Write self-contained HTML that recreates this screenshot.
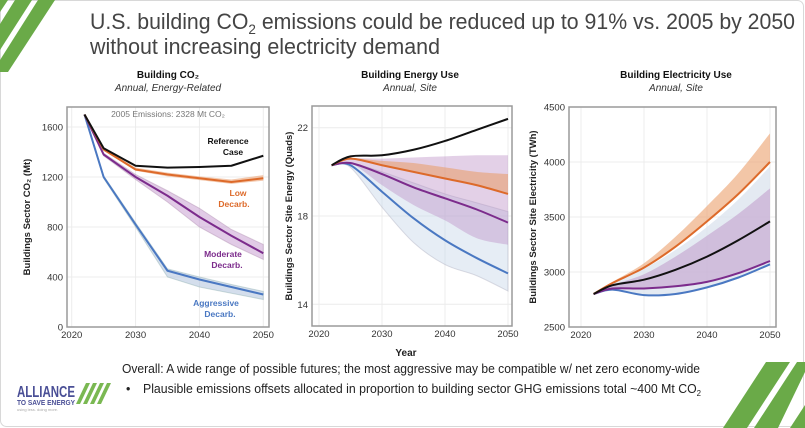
<!DOCTYPE html>
<html><head><meta charset="utf-8"><style>
body{margin:0;background:#fff;}
svg{display:block;font-family:"Liberation Sans",sans-serif;}
.t{font-family:"Liberation Sans",sans-serif;}
</style></head><body>
<svg id="s" width="805" height="428" viewBox="0 0 805 428">
<rect x="0.5" y="0.5" width="803" height="426" rx="6" fill="#fff" stroke="#d8d8d8"/>
<g fill="#6aaa48">
<polygon points="0,0 8,0 0,12"/>
<polygon points="15,0 32,0 0,50 0,24"/>
<polygon points="38,0 55,0 8,72 0,72 0,60"/>
</g>
<g fill="#6aaa48">
<polygon points="766,362 790,362 747,428 723,428"/>
<polygon points="797,362 805,362 805,372 778,428 754,428"/>
<polygon points="805,405 805,428 790,428"/>
</g>
<text class="t" x="90" y="29" font-size="22" fill="#444" textLength="705" lengthAdjust="spacingAndGlyphs">U.S. building CO<tspan font-size="14" dy="5">2</tspan><tspan dy="-5"> emissions could be reduced up to 91% vs. 2005 by 2050</tspan></text>
<text class="t" x="90" y="54" font-size="22" fill="#444" textLength="350" lengthAdjust="spacingAndGlyphs">without increasing electricity demand</text>
<g id="charts"></g>
<text x="406" y="356" font-size="10" font-weight="bold" fill="#222" text-anchor="middle">Year</text>
<text class="t" x="122" y="373" font-size="12.5" fill="#222" textLength="578" lengthAdjust="spacingAndGlyphs">Overall: A wide range of possible futures; the most aggressive may be compatible w/ net zero economy-wide</text>
<text class="t" x="126" y="393" font-size="12.5" fill="#222">•</text>
<text class="t" x="143" y="393" font-size="12.5" fill="#222" textLength="558" lengthAdjust="spacingAndGlyphs">Plausible emissions offsets allocated in proportion to building sector GHG emissions total ~400 Mt CO<tspan font-size="8" dy="3">2</tspan></text>
<g>
<text class="t" x="17" y="397" font-size="16" font-weight="bold" fill="#4a4f96" textLength="58" lengthAdjust="spacingAndGlyphs">ALLIANCE</text>
<text class="t" x="17" y="405" font-size="7" font-weight="bold" fill="#4a4f96" textLength="58" lengthAdjust="spacingAndGlyphs">TO SAVE ENERGY</text>
<text x="17" y="411" font-size="4" fill="#aaa">using less. doing more.</text>
<g fill="#7ab852"><polygon points="86,383 90,383 80,404 76,404"/><polygon points="93,383 97,383 87,404 83,404"/><polygon points="100,383 104,383 94,404 90,404"/><polygon points="107,383 111,383 101,404 97,404"/></g>
</g>
</svg>
<script>
// ---- Data ----
const years = [2022,2025,2030,2035,2040,2045,2050];
// Panel 1: Building CO2 (Mt)
const co2Reference = [1700,1430,1290,1275,1280,1290,1370];
const co2Low = [1700,1420,1260,1220,1190,1160,1190];
const co2LowHi = [1700,1430,1275,1235,1205,1180,1215];
const co2LowLo = [1700,1410,1250,1205,1175,1145,1170];
const co2Moderate = [1700,1380,1200,1050,880,730,590];
const co2ModerateHi = [1700,1390,1220,1090,950,780,660];
const co2ModerateLo = [1700,1370,1180,1000,800,660,540];
const co2Aggressive = [1700,1200,820,450,380,320,260];
const co2AggressiveHi = [1700,1210,835,465,400,340,285];
const co2AggressiveLo = [1700,1190,800,400,320,270,220];
const co2Ticks = [0,400,800,1200,1600];
// Panel 2: Site energy (Quads)
const enReference = [20.3,20.7,20.75,21.0,21.4,21.9,22.4];
const enLow = [20.3,20.6,20.3,20.0,19.7,19.4,19.0];
const enLowHi = [20.3,20.6,20.5,20.4,20.2,20.0,19.9];
const enModerate = [20.3,20.4,19.9,19.3,18.8,18.3,17.7];
const enModerateHi = [20.3,20.6,20.6,20.65,20.7,20.75,20.75];
const enModerateLo = [20.3,20.4,19.4,18.5,17.8,17.0,16.7];
const enAggressive = [20.3,20.3,19.1,17.9,16.9,16.1,15.4];
const enAggressiveHi = [20.3,20.4,20.0,19.5,19.0,18.6,18.2];
const enAggressiveLo = [20.3,20.2,18.4,16.8,15.8,15.3,14.6];
const enTicks = [14,18,22];
// Panel 3: Site electricity (TWh)
const elReference = [2800,2880,2930,3020,3140,3290,3460];
const elLow = [2800,2900,3040,3230,3460,3710,4000];
const elLowHi = [2800,2910,3080,3320,3600,3900,4260];
const elAggHi = [2800,2900,3030,3200,3410,3660,3960];
const elModerate = [2800,2850,2850,2870,2910,2990,3100];
const elModerateHi = [2800,2880,2980,3140,3330,3530,3760];
const elModerateLo = [2800,2850,2850,2870,2910,2980,3100];
const elAggressive = [2800,2840,2790,2800,2860,2950,3070];
const elTicks = [2500,3000,3500,4000,4500];
const xTicks = [2020,2030,2040,2050];

const NS="http://www.w3.org/2000/svg";
const root=document.getElementById('charts');
function mk(tag,attrs,parent){const e=document.createElementNS(NS,tag);for(const k in attrs)e.setAttribute(k,attrs[k]);(parent||root).appendChild(e);return e;}
function txt(parent,x,y,s,attrs){const e=mk('text',Object.assign({x:x,y:y},attrs||{}),parent);e.textContent=s;return e;}
const C={ref:'#111',low:'#dd6a2a',mod:'#7c2c8c',agg:'#4a78c2'};

function path(xs,ys,fx,fy,smooth){
  const p=xs.map((v,i)=>[fx(v),fy(ys[i])]);
  if(!smooth)return 'M'+p.map(q=>q.join(',')).join('L');
  let d='M'+p[0].join(',');
  for(let i=0;i<p.length-1;i++){
    const p0=p[Math.max(0,i-1)],p1=p[i],p2=p[i+1],p3=p[Math.min(p.length-1,i+2)];
    const c1=[p1[0]+(p2[0]-p0[0])/6,p1[1]+(p2[1]-p0[1])/6];
    const c2=[p2[0]-(p3[0]-p1[0])/6,p2[1]-(p3[1]-p1[1])/6];
    d+='C'+c1.join(',')+' '+c2.join(',')+' '+p2.join(',');
  }
  return d;
}
function band(xs,hi,lo,fx,fy,smooth){
  const a=path(xs,hi,fx,fy,smooth);
  const rx=xs.slice().reverse(),rl=lo.slice().reverse();
  const b=path(rx,rl,fx,fy,smooth).replace(/^M/,'L');
  return a+b+'Z';
}

function panel(cfg){
  const g=mk('g',{});
  
  
  const fx=v=>cfg.x0+(v-2020)/30*(cfg.x1-cfg.x0);
  const fy=v=>cfg.y0+(v-cfg.ymin)/(cfg.ymax-cfg.ymin)*(cfg.y1-cfg.y0);
  xTicks.forEach(t=>{const l=mk('line',{x1:fx(t),x2:fx(t),y1:cfg.top,y2:cfg.bottom,stroke:'#ececec','stroke-width':1},g);
    });
  cfg.yt.forEach(t=>{const l=mk('line',{x1:cfg.left,x2:cfg.right,y1:fy(t),y2:fy(t),stroke:'#ececec','stroke-width':1},g);
    });
  cfg.bands.forEach(b=>{const e=mk('path',{d:band(years,b.hi,b.lo,fx,fy,cfg.smooth),fill:b.fill,'fill-opacity':b.op,stroke:b.stroke||'none','stroke-opacity':0.4},g);
    });
  cfg.lines.forEach(l=>{const e=mk('path',{d:path(years,l.v,fx,fy,cfg.smooth),fill:'none',stroke:l.c,'stroke-width':2,'stroke-linejoin':'round'},g);
    });
  const fr=mk('rect',{x:cfg.left,y:cfg.top,width:cfg.right-cfg.left,height:cfg.bottom-cfg.top,fill:'none',stroke:'#9a9a9a','stroke-width':1.5},g);
  
  xTicks.forEach(t=>{const e=txt(g,fx(t),cfg.bottom+11,String(t),{'font-size':9.5,fill:'#333','text-anchor':'middle'});
    });
  cfg.yt.forEach(t=>{const e=txt(g,cfg.left-4,fy(t)+3.5,String(t),{'font-size':9.5,fill:'#333','text-anchor':'end'});
    });
  const yt=txt(g,0,0,cfg.ylab,{'font-size':9.5,'font-weight':'bold',fill:'#222','text-anchor':'middle',transform:`translate(${cfg.ylx},${(cfg.top+cfg.bottom)/2}) rotate(-90)`});
  
  const tt=txt(g,cfg.cx,78,cfg.title,{'font-size':10,'font-weight':'bold',fill:'#111','text-anchor':'middle'});
  
  const st=txt(g,cfg.cx,91,cfg.sub,{'font-size':10,'font-style':'italic',fill:'#333','text-anchor':'middle'});
  
  return g;
}

const g1=panel({name:'building-co2-chart',left:67,right:269,top:107,bottom:327,x0:71.7,x1:263.3,y0:327,y1:127,ymin:0,ymax:1600,yt:co2Ticks,smooth:false,
  ylab:'Buildings Sector CO₂ (Mt)',ylx:30,cx:168,title:'Building CO₂',sub:'Annual, Energy-Related',
  bands:[{name:'aggressive-band',hi:co2AggressiveHi,lo:co2AggressiveLo,fill:'#b8c8e0',op:0.6,stroke:'#8aa'},
         {name:'moderate-band',hi:co2ModerateHi,lo:co2ModerateLo,fill:'#c9a0d2',op:0.55,stroke:'#a8a'},
         {name:'low-band',hi:co2LowHi,lo:co2LowLo,fill:'#eeb08a',op:0.7}],
  lines:[{name:'aggressive-line',v:co2Aggressive,c:C.agg},{name:'moderate-line',v:co2Moderate,c:C.mod},{name:'low-line',v:co2Low,c:C.low},{name:'reference-line',v:co2Reference,c:C.ref}]});
[['2005 Emissions: 2328 Mt CO₂',168,117,'#777',8.5,'normal','emissions-note'],['Reference',228,144,'#111',8.5,'bold','reference-label'],['Case',233,155,'#111',8.5,'bold','reference-label-2'],
 ['Low',238,196,C.low,8.5,'bold','low-label'],['Decarb.',234,207,C.low,8.5,'bold','low-label-2'],
 ['Moderate',223,257,C.mod,8.5,'bold','moderate-label'],['Decarb.',227,268,C.mod,8.5,'bold','moderate-label-2'],
 ['Aggressive',216,306,C.agg,8.5,'bold','aggressive-label'],['Decarb.',220,317,C.agg,8.5,'bold','aggressive-label-2']].forEach(a=>{
  const e=txt(g1,a[1],a[2],a[0],{'font-size':a[4],'font-weight':a[5],fill:a[3],'text-anchor':'middle'});
  });

panel({name:'building-energy-chart',left:312,right:512,top:106,bottom:326,x0:319,x1:508,y0:304.3,y1:127.7,ymin:14,ymax:22,yt:enTicks,smooth:true,
  ylab:'Buildings Sector Site Energy (Quads)',ylx:292,cx:410,title:'Building Energy Use',sub:'Annual, Site',
  bands:[{name:'aggressive-band',hi:enAggressiveHi,lo:enAggressiveLo,fill:'#c8d6e8',op:0.45,stroke:'#aab'},
         {name:'moderate-band',hi:enModerateHi,lo:enModerateLo,fill:'#b88ac4',op:0.4},
         {name:'low-band',hi:enLowHi,lo:enLow,fill:'#e8a070',op:0.6}],
  lines:[{name:'aggressive-line',v:enAggressive,c:C.agg},{name:'moderate-line',v:enModerate,c:C.mod},{name:'low-line',v:enLow,c:C.low},{name:'reference-line',v:enReference,c:C.ref}]});

panel({name:'building-electricity-chart',left:569,right:776,top:107,bottom:327,x0:581,x1:770,y0:327,y1:107,ymin:2500,ymax:4500,yt:elTicks,smooth:true,
  ylab:'Buildings Sector Site Electricity (TWh)',ylx:536,cx:676,title:'Building Electricity Use',sub:'Annual, Site',
  bands:[{name:'low-band',hi:elLowHi,lo:elLow,fill:'#eca878',op:0.65},
         {name:'aggressive-band',hi:elAggHi,lo:elAggressive,fill:'#dde5ef',op:0.8},
         {name:'moderate-band',hi:elModerateHi,lo:elModerateLo,fill:'#c4a6d0',op:0.65}],
  lines:[{name:'aggressive-line',v:elAggressive,c:C.agg},{name:'moderate-line',v:elModerate,c:C.mod},{name:'low-line',v:elLow,c:C.low},{name:'reference-line',v:elReference,c:C.ref}]});
</script>
</body></html>
